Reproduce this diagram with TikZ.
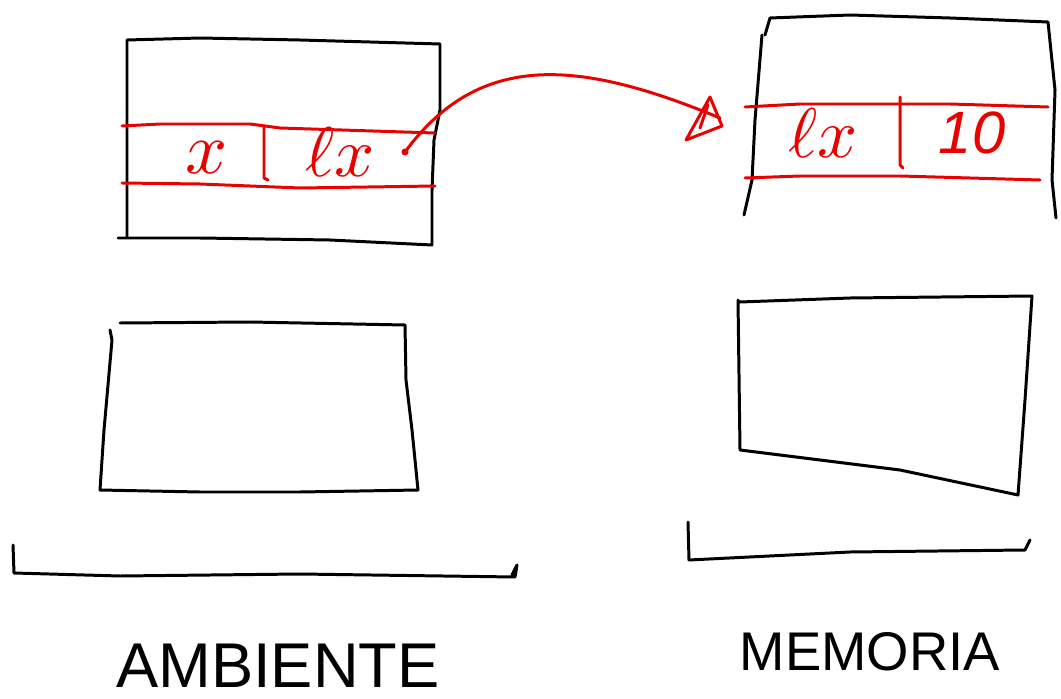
\documentclass[tikz,border=0pt]{standalone}
\usepackage{amsmath}
\usepackage{fontspec}
\setmainfont{Liberation Sans}
\usetikzlibrary{arrows.meta}
\definecolor{pen}{RGB}{235,0,0}
\tikzset{
  blk/.style={draw=black,line width=1.7pt,line join=round,line cap=round},
  redl/.style={draw=pen,line width=1.7pt,line join=round,line cap=round},
  redtxt/.style={text=pen,inner sep=0pt},
  lbl/.style={inner sep=0pt,font=\fontsize{36}{40}\selectfont},
}
\begin{document}
\begin{tikzpicture}[x=0.02cm,y=-0.02cm]
\useasboundingbox (0,0) rectangle (1061,699);
% top-left box
\draw[blk] (127,236) -- (127,40) -- (200,38) -- (300,40) -- (440,44) -- (440,110) -- (434,140) -- (432,190) -- (432,245) -- (330,240) -- (200,238) -- (118,238);
% red row left
\draw[redl] (122,126) -- (160,124) -- (250,124) -- (280,128) -- (435,133);
\draw[redl] (122,183) -- (200,184) -- (300,188) -- (435,186);
\draw[redl] (264,126) -- (264,178) -- (268,180);
\node[redtxt] (x) at (207,158) {\scalebox{4.2}{$x$}};
\node[redtxt] (lx1) at (340,152) {\scalebox{4.0}{$\ell x$}};
\coordinate (dot) at (405,152);
\fill[pen] (dot) circle (3.5);
% top-right box
\draw[blk] (765,35) -- (770,18) -- (850,15) -- (950,18) -- (1048,22) -- (1055,90) -- (1052,180) -- (1056,218);
\draw[blk] (762,35) -- (755,120) -- (752,180) -- (744,215);
% red row right
\draw[redl] (745,107) -- (800,104) -- (950,104) -- (1048,107);
\draw[redl] (745,178) -- (800,176) -- (900,176) -- (1040,180);
\draw[redl] (900,97) -- (900,165) -- (903,168);
\node[redtxt] (lx2) at (823,133) {\scalebox{4.0}{$\ell x$}};
\node[redtxt] (ten) at (972,133) {\fontsize{34}{36}\selectfont\itshape 10};
% arrow
\coordinate (tip) at (720,118);
\draw[redl] (dot) .. controls (480,50) and (580,60) .. (tip);
\draw[redl] (710,97) -- (686,140) -- (722,126) -- cycle;
\draw[redl] (708,105) -- (700,128);
% middle-left box
\draw[blk] (120,323) -- (250,322) -- (405,325) -- (406,380) -- (412,430) -- (418,490) -- (300,492) -- (200,492) -- (100,490) -- (104,430) -- (112,340) -- (110,330);
% middle-right box
\draw[blk] (740,302) -- (850,298) -- (1032,296) -- (1025,400) -- (1018,495) -- (900,470) -- (740,450) -- (738,300);
% brackets
\draw[blk] (13,545) -- (14,573) -- (120,576) -- (300,574) -- (515,577) -- (517,565) -- (512,575);
\draw[blk] (688,522) -- (689,560) -- (850,552) -- (1025,550) -- (1030,540);
% labels
\node[lbl] (amb) at (278,666) {AMBIENTE};
\node[lbl,font=\fontsize{31}{34}\selectfont] (mem) at (870,652) {MEMORIA};
\end{tikzpicture}
\end{document}
